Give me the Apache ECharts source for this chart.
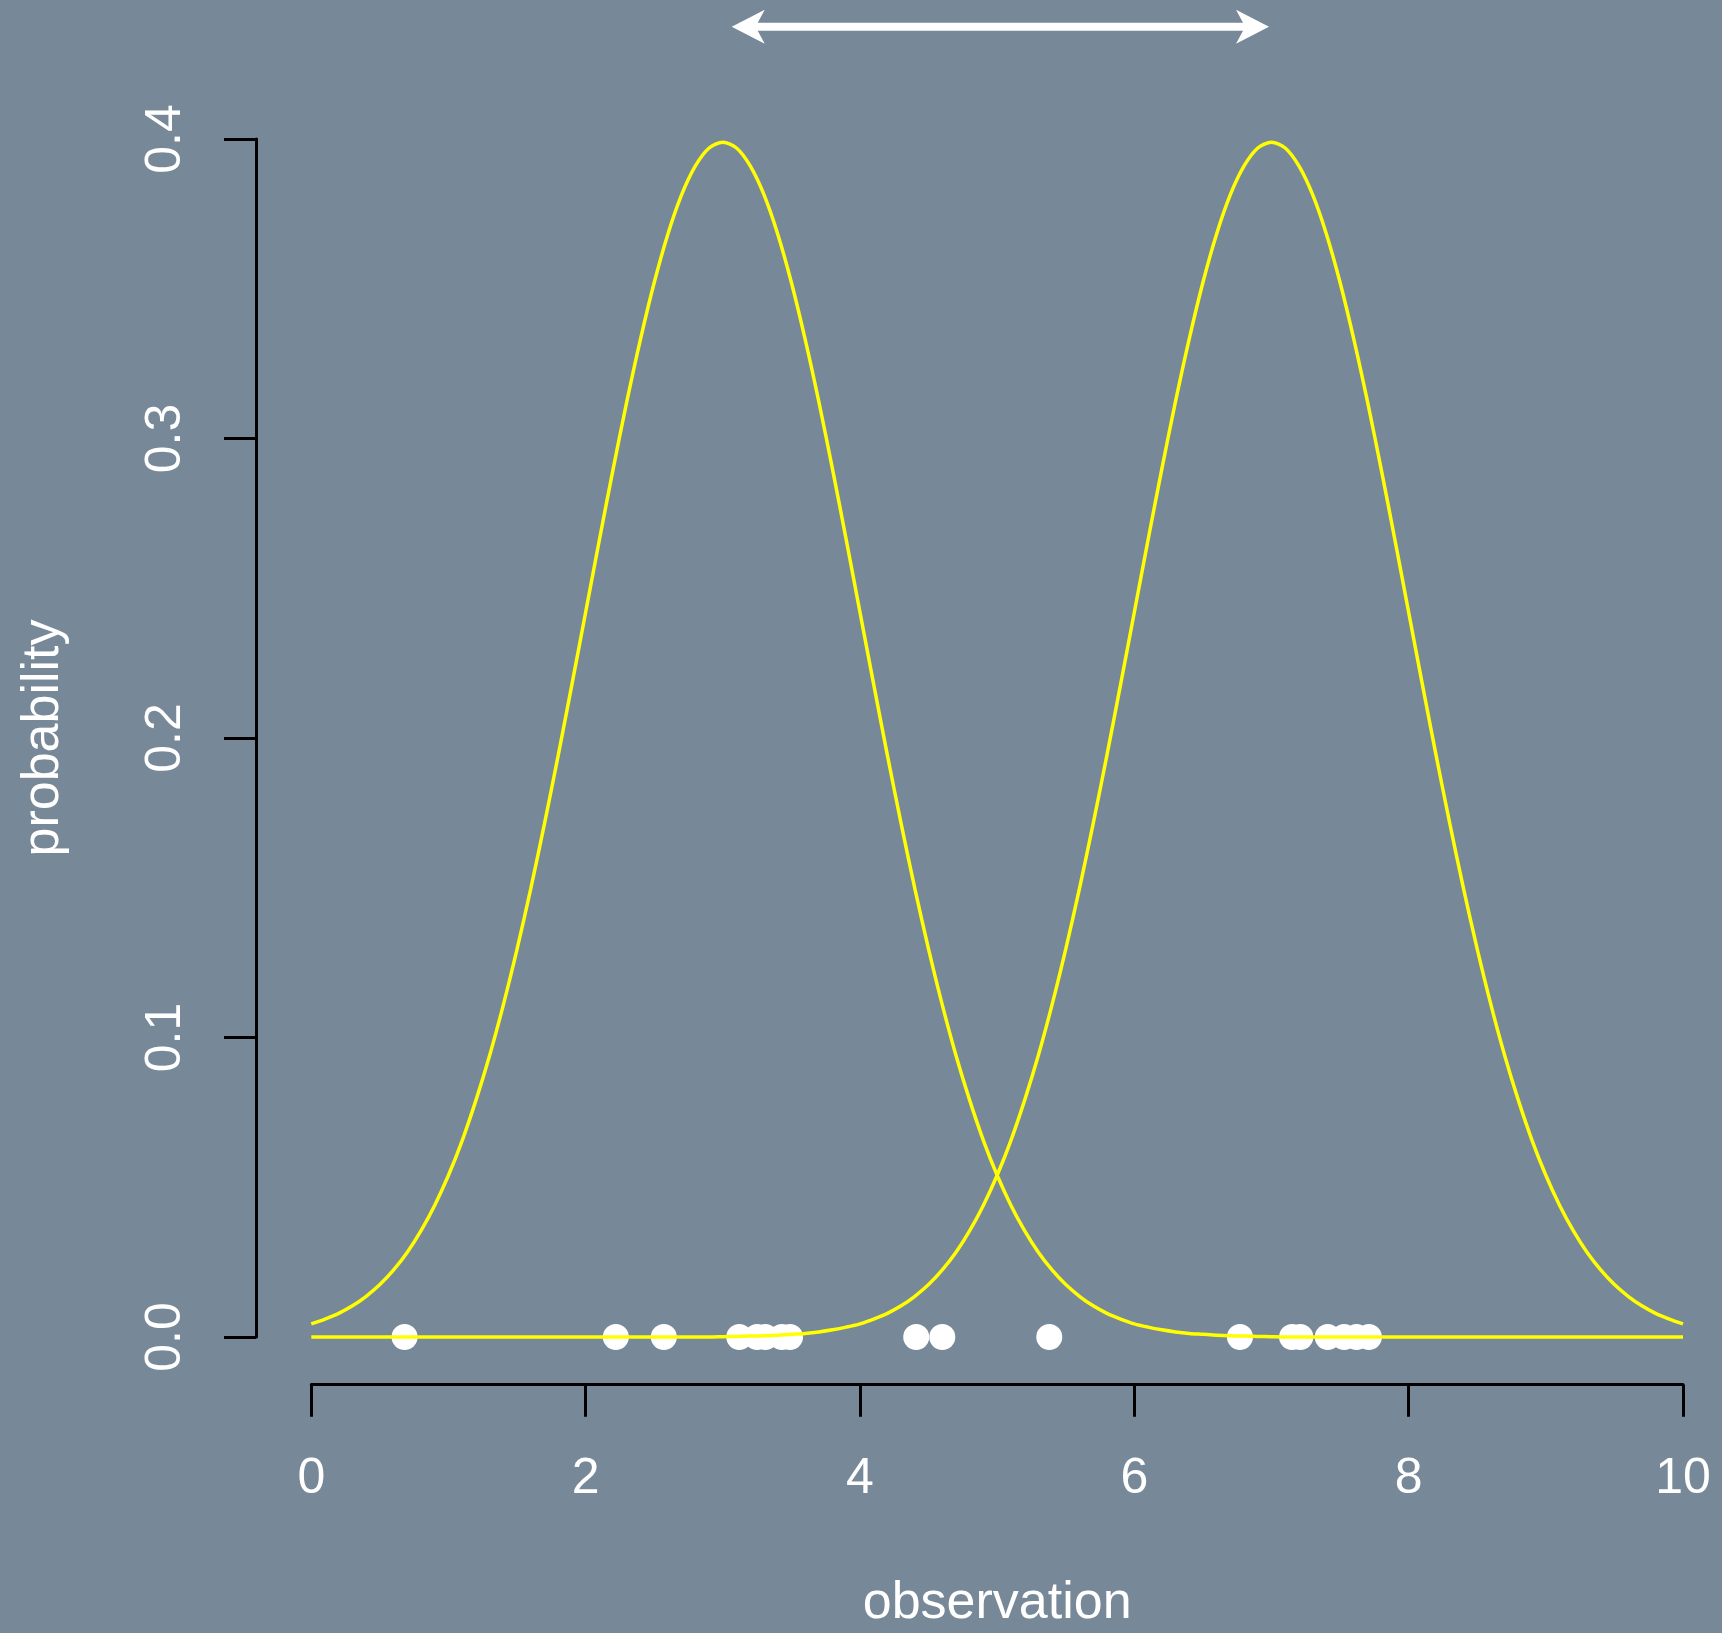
<!DOCTYPE html>
<html>
<head>
<meta charset="utf-8">
<script src="https://cdn.jsdelivr.net/npm/echarts@6/dist/echarts.min.js"></script>
<style>
  html, body { margin: 0; padding: 0; background: #778899; }
  #chart { width: 1722px; height: 1633px; }
</style>
</head>
<body>
<div id="chart"></div>
<script>
// ---- data ----
const xGrid = [0, 0.1, 0.2, 0.3, 0.4, 0.5, 0.6, 0.7, 0.8, 0.9,
  1, 1.1, 1.2, 1.3, 1.4, 1.5, 1.6, 1.7, 1.8, 1.9,
  2, 2.1, 2.2, 2.3, 2.4, 2.5, 2.6, 2.7, 2.8, 2.9,
  3, 3.1, 3.2, 3.3, 3.4, 3.5, 3.6, 3.7, 3.8, 3.9,
  4, 4.1, 4.2, 4.3, 4.4, 4.5, 4.6, 4.7, 4.8, 4.9,
  5, 5.1, 5.2, 5.3, 5.4, 5.5, 5.6, 5.7, 5.8, 5.9,
  6, 6.1, 6.2, 6.3, 6.4, 6.5, 6.6, 6.7, 6.8, 6.9,
  7, 7.1, 7.2, 7.3, 7.4, 7.5, 7.6, 7.7, 7.8, 7.9,
  8, 8.1, 8.2, 8.3, 8.4, 8.5, 8.6, 8.7, 8.8, 8.9,
  9, 9.1, 9.2, 9.3, 9.4, 9.5, 9.6, 9.7, 9.8, 9.9, 10];
const curveA = [0.0044, 0.0060, 0.0079, 0.0104, 0.0136, 0.0175, 0.0224, 0.0283, 0.0355, 0.0440,
  0.0540, 0.0656, 0.0790, 0.0940, 0.1109, 0.1295, 0.1497, 0.1714, 0.1942, 0.2179,
  0.2420, 0.2661, 0.2897, 0.3123, 0.3332, 0.3521, 0.3683, 0.3814, 0.3910, 0.3970,
  0.3989, 0.3970, 0.3910, 0.3814, 0.3683, 0.3521, 0.3332, 0.3123, 0.2897, 0.2661,
  0.2420, 0.2179, 0.1942, 0.1714, 0.1497, 0.1295, 0.1109, 0.0940, 0.0790, 0.0656,
  0.0540, 0.0440, 0.0355, 0.0283, 0.0224, 0.0175, 0.0136, 0.0104, 0.0079, 0.0060,
  0.0044, 0.0033, 0.0024, 0.0017, 0.0012, 0.0009, 0.0006, 0.0004, 0.0003, 0.0002,
  0.0001, 0, 0, 0, 0, 0, 0, 0, 0, 0,
  0, 0, 0, 0, 0, 0, 0, 0, 0, 0,
  0, 0, 0, 0, 0, 0, 0, 0, 0, 0, 0];
const curveB = [0, 0, 0, 0, 0, 0, 0, 0, 0, 0,
  0, 0, 0, 0, 0, 0, 0, 0, 0, 0,
  0, 0, 0, 0, 0, 0, 0, 0, 0, 0,
  0.0001, 0.0002, 0.0003, 0.0004, 0.0006, 0.0009, 0.0012, 0.0017, 0.0024, 0.0033,
  0.0044, 0.0060, 0.0079, 0.0104, 0.0136, 0.0175, 0.0224, 0.0283, 0.0355, 0.0440,
  0.0540, 0.0656, 0.0790, 0.0940, 0.1109, 0.1295, 0.1497, 0.1714, 0.1942, 0.2179,
  0.2420, 0.2661, 0.2897, 0.3123, 0.3332, 0.3521, 0.3683, 0.3814, 0.3910, 0.3970,
  0.3989, 0.3970, 0.3910, 0.3814, 0.3683, 0.3521, 0.3332, 0.3123, 0.2897, 0.2661,
  0.2420, 0.2179, 0.1942, 0.1714, 0.1497, 0.1295, 0.1109, 0.0940, 0.0790, 0.0656,
  0.0540, 0.0440, 0.0355, 0.0283, 0.0224, 0.0175, 0.0136, 0.0104, 0.0079, 0.0060, 0.0044];
const observations = [0.68, 2.22, 2.57, 3.12, 3.25, 3.31, 3.43, 3.49, 4.41, 4.60, 5.38,
  6.77, 7.15, 7.21, 7.41, 7.53, 7.62, 7.71];
const arrowSpan = [3.065, 0.4375, 6.982]; // [from x, at y, to x]
const xTickLabels = ['0', '2', '4', '6', '8', '10'];
const yTickLabels = ['0.0', '0.1', '0.2', '0.3', '0.4'];
const xTitle = 'observation';
const yTitle = 'probability';

// ---- chart ----
const FONT = '"Liberation Sans", Arial, Helvetica, sans-serif';
const FS = 50;
const FS_TITLE = 52;
const chart = echarts.init(document.getElementById('chart'), null, { renderer: 'canvas' });

const pairs = (ys) => xGrid.map((x, i) => [x, ys[i]]);

const option = {
  backgroundColor: '#778899',
  animation: false,
  grid: { left: 311.3, right: 39, top: 139, bottom: 296, containLabel: false, outerBoundsMode: 'none' },
  xAxis: {
    type: 'value', min: 0, max: 10, interval: 2, offset: 47.7,
    axisLine: { show: true, onZero: false, lineStyle: { color: '#000', width: 3 } },
    axisTick: { show: true, length: 32, lineStyle: { color: '#000', width: 3 } },
    splitLine: { show: false },
    axisLabel: {
      color: '#fff', fontSize: FS, fontFamily: FONT, margin: 94.7,
      verticalAlign: 'middle', showMinLabel: true, showMaxLabel: true,
      formatter: (v) => xTickLabels[Math.round(v / 2)]
    },
    name: xTitle, nameLocation: 'middle', nameGap: 219,
    nameTextStyle: { color: '#fff', fontSize: FS_TITLE, fontFamily: FONT, verticalAlign: 'middle' }
  },
  yAxis: {
    type: 'value', min: 0, max: 0.4, interval: 0.1, offset: 55.3,
    axisLine: { show: true, onZero: false, lineStyle: { color: '#000', width: 3 } },
    axisTick: { show: true, length: 32, lineStyle: { color: '#000', width: 3 } },
    splitLine: { show: false },
    axisLabel: {
      color: '#fff', fontSize: FS, fontFamily: FONT, margin: 90, rotate: 90,
      align: 'center', verticalAlign: 'middle', showMinLabel: true, showMaxLabel: true,
      formatter: (v) => yTickLabels[Math.round(v * 10)]
    },
    name: yTitle, nameLocation: 'middle', nameGap: 212, nameRotate: 90,
    nameTextStyle: { color: '#fff', fontSize: FS_TITLE, fontFamily: FONT, verticalAlign: 'middle' }
  },
  series: [
    {
      type: 'scatter', clip: false, symbol: 'circle', symbolSize: 26,
      itemStyle: { color: '#ffffff', opacity: 1 },
      data: observations.map(x => [x, 0]),
      z: 2
    },
    {
      type: 'line', clip: false, showSymbol: false, smooth: 0.3,
      lineStyle: { color: '#ffff00', width: 3.5 },
      data: pairs(curveA), z: 3
    },
    {
      type: 'line', clip: false, showSymbol: false, smooth: 0.3,
      lineStyle: { color: '#ffff00', width: 3.5 },
      data: pairs(curveB), z: 3
    },
    {
      type: 'custom', clip: false, z: 4,
      data: [arrowSpan],
      renderItem: function (params, api) {
        const p1 = api.coord([api.value(0), api.value(1)]);
        const p2 = api.coord([api.value(2), api.value(1)]);
        const y = p1[1], xl = p1[0], xr = p2[0];
        const L = 33, H = 17, N = 26, T = 4;
        return {
          type: 'polygon',
          shape: { points: [
            [xl, y], [xl + L, y - H], [xl + N, y - T], [xr - N, y - T], [xr - L, y - H],
            [xr, y], [xr - L, y + H], [xr - N, y + T], [xl + N, y + T], [xl + L, y + H]
          ] },
          style: { fill: '#ffffff' }
        };
      }
    }
  ]
};
chart.setOption(option);
</script>
</body>
</html>
